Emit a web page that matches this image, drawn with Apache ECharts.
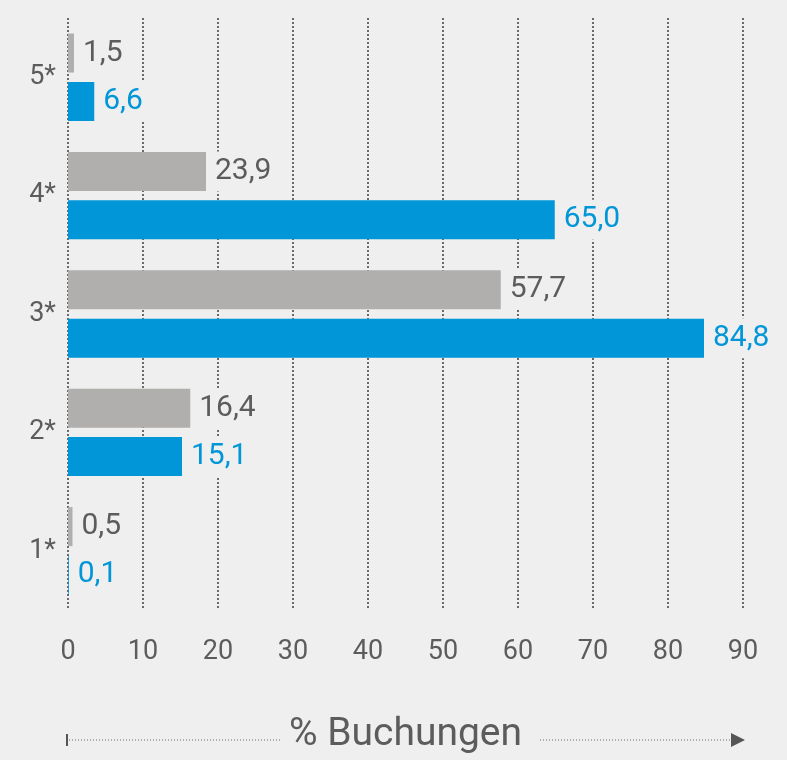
<!DOCTYPE html>
<html lang="de">
<head>
    <meta charset="UTF-8">
    <script src="https://cdn.jsdelivr.net/npm/echarts@6.0.0/dist/echarts.min.js"></script>
    <title>Buchungen nach Sternen</title>
    <style>
        html, body { margin: 0; padding: 0; background: #efefef; }
    </style>
</head>
<body>
    <div id="main" style="width: 787px;height:760px;"></div>
    <script type="text/javascript">
        // data (bar lengths as drawn, labels as printed)
        const categories = ['1*', '2*', '3*', '4*', '5*'];
        const greyValues = [0.6, 16.3, 57.7, 18.4, 0.8];
        const blueValues = [0.1, 15.2, 84.8, 64.9, 3.5];
        const greyLabels = ['0,5', '16,4', '57,7', '23,9', '1,5'];
        const blueLabels = ['0,1', '15,1', '84,8', '65,0', '6,6'];
        const xTicks = [0, 10, 20, 30, 40, 50, 60, 70, 80, 90];

        const bg = '#efefef';
        const textGrey = '#5c5c5c';
        const blue = '#0096d8';
        const font = 'Roboto';

        let myChart = echarts.init(document.getElementById('main'));

        function barLabel(color, texts) {
            return {
                show: true,
                position: 'right',
                distance: 5,
                formatter: (p) => texts[p.dataIndex],
                color: color,
                fontFamily: font,
                fontSize: 30,
                backgroundColor: bg, // hides the grid lines behind the label
                padding: [5, 4]
            };
        }

        let options = {
            backgroundColor: bg,
            animation: false,
            grid: { left: 68, right: 44, top: 18, bottom: 142 },
            xAxis: {
                type: 'value',
                min: xTicks[0],
                max: xTicks[xTicks.length - 1],
                interval: 10,
                axisLine: { show: false },
                axisTick: { show: false },
                axisLabel: { color: textGrey, fontFamily: font, fontSize: 27, margin: 29 },
                splitLine: { show: true, lineStyle: { color: '#6a6a6a', width: 2, type: [2, 2] } },
                name: '% Buchungen',
                nameLocation: 'middle',
                nameGap: 106,
                nameTextStyle: { color: textGrey, fontFamily: font, fontSize: 39 }
            },
            yAxis: {
                type: 'category',
                data: categories,
                axisLine: { show: false },
                axisTick: { show: false },
                axisLabel: { color: textGrey, fontFamily: font, fontSize: 27, margin: 12, padding: [6, 0, 0, 0] }
            },
            series: [
                {
                    name: 'grau',
                    type: 'bar',
                    data: greyValues,
                    barWidth: 39,
                    barGap: '24%',
                    itemStyle: { color: '#b0afad' },
                    label: barLabel(textGrey, greyLabels),
                    z: 3
                },
                {
                    name: 'blau',
                    type: 'bar',
                    data: blueValues,
                    barWidth: 39,
                    barGap: '24%',
                    itemStyle: { color: blue },
                    label: barLabel(blue, blueLabels),
                    z: 3
                }
            ],
            // dotted arrow line around the axis title
            graphic: [
                { type: 'rect', shape: { x: 66, y: 734, width: 2, height: 12 }, style: { fill: '#555' } },
                { type: 'line', shape: { x1: 69, y1: 740, x2: 280, y2: 740 }, style: { stroke: '#666', lineWidth: 1, lineDash: [1, 2] } },
                { type: 'line', shape: { x1: 540, y1: 740, x2: 732, y2: 740 }, style: { stroke: '#666', lineWidth: 1, lineDash: [1, 2] } },
                { type: 'polygon', shape: { points: [[731, 733], [745, 740], [731, 747]] }, style: { fill: '#555' } }
            ]
        };
        myChart.setOption(options);
    </script>
</body>
</html>
